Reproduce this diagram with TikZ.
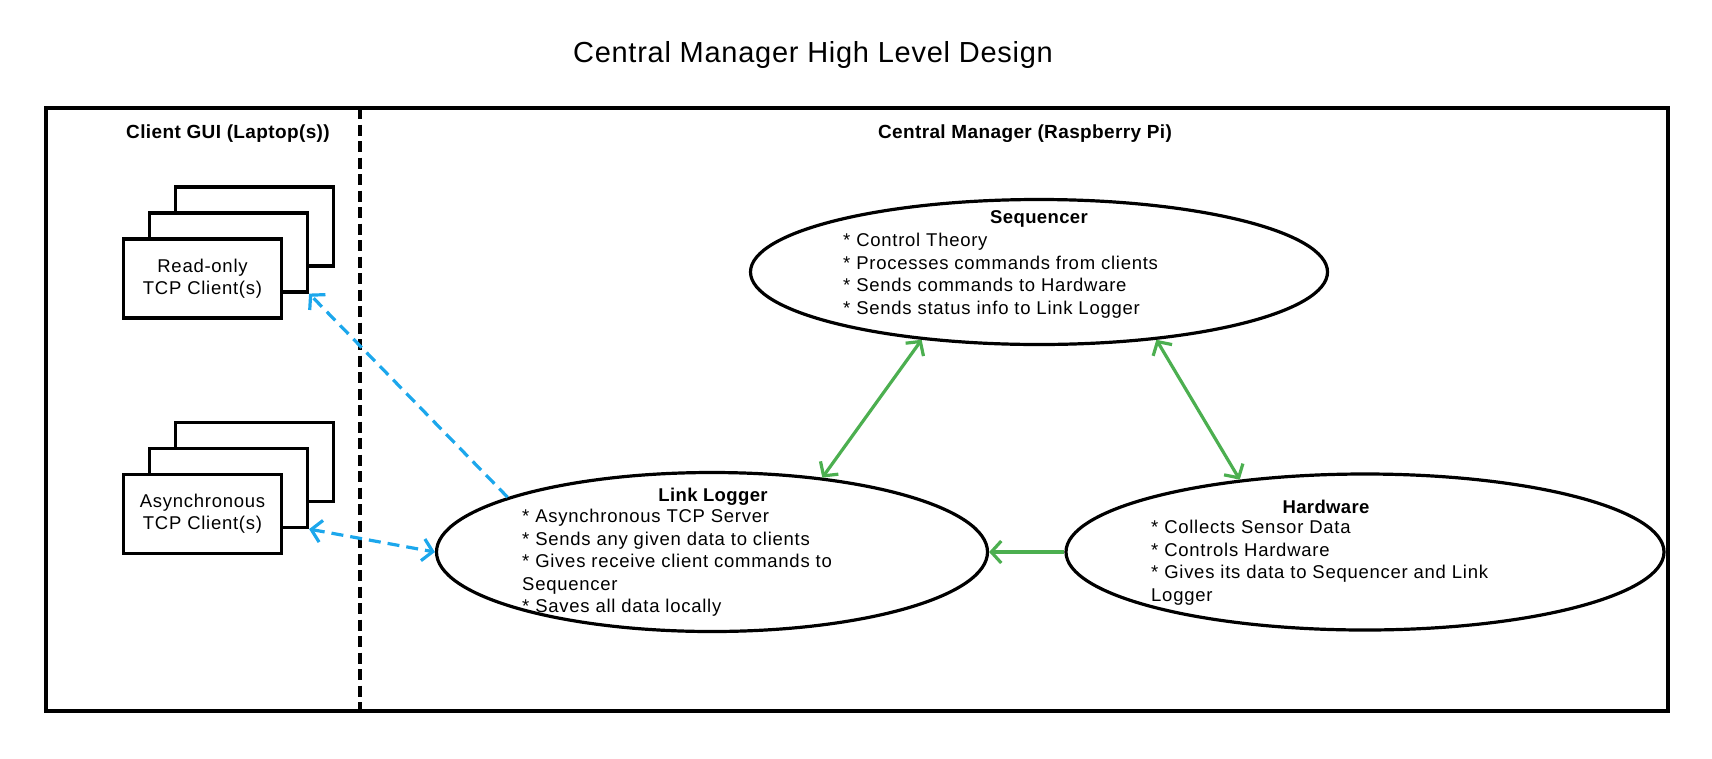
\documentclass[tikz,border=0pt]{standalone}
\usepackage{fontspec}
\setmainfont{Liberation Sans}[LetterSpace=4,BoldFeatures={LetterSpace=2}]
\newfontfamily\titlefont{Liberation Sans}[LetterSpace=2.5]
\usetikzlibrary{shapes.geometric,arrows.meta}
\definecolor{grn}{RGB}{76,175,80}
\definecolor{blu}{RGB}{28,167,236}
\begin{document}
\begin{tikzpicture}[x=1pt,y=-1pt,
  chev/.tip={Straight Barb[length=10pt,width=22pt]},
  body/.style={font=\fontsize{18.5}{22.5}\selectfont, inner sep=0pt, align=left, anchor=north west},
  ttl/.style={font=\fontsize{18.5}{22}\selectfont\bfseries, inner sep=0pt, anchor=base},
  sect/.style={font=\fontsize{19}{22}\selectfont\bfseries, inner sep=0pt, anchor=base},
  comp/.style={draw, line width=3.2pt, ellipse, inner sep=0pt},
  clientbox/.style={draw, line width=3.2pt, fill=white, minimum width=158pt, minimum height=79pt, inner sep=0pt, align=center, font=\fontsize{18.5}{22}\selectfont},
  garrow/.style={draw=grn, line width=3.2pt},
  barrow/.style={draw=blu, line width=3.2pt, dash pattern=on 12pt off 7pt}
]
\useasboundingbox (0,0) rectangle (1712,758);
\node[font=\fontsize{29}{33}\selectfont\titlefont, inner sep=0pt, anchor=base] (title) at (813,62) {Central Manager High Level Design};
% frame
\draw[line width=3.2pt] (46,108) rectangle (1668,711);
\coordinate (divtop) at (360,108);
\coordinate (divbot) at (360,711);
\draw[line width=3.2pt, dash pattern=on 11pt off 5.5pt] (divtop) -- (divbot);
\node[sect] (clientlbl) at (228,138.5) {Client GUI (Laptop(s))};
\node[sect] (cmlbl) at (1025,138.5) {Central Manager (Raspberry Pi)};
% read-only clients
\node[clientbox] (rob) at (254.5,226.5) {};
\node[clientbox] (rom) at (228.5,252.5) {};
\node[clientbox] (rof) at (202.5,278.5) {Read-only\\TCP Client(s)};
% async clients
\node[clientbox] (asb) at (254.5,462) {};
\node[clientbox] (asm) at (228.5,488) {};
\node[clientbox] (asf) at (202.5,514) {Asynchronous\\TCP Client(s)};
% ellipses
\node[comp, minimum width=577pt, minimum height=145pt] (seq) at (1039,272) {};
\node[comp, minimum width=551pt, minimum height=159pt] (ll) at (712,552) {};
\node[comp, minimum width=598pt, minimum height=156pt] (hw) at (1365,552) {};
% texts
\node[ttl] (seqt) at (1039,223.5) {Sequencer};
\node[body] (seqb) at (843,233) {* Control Theory\\* Processes commands from clients\\* Sends commands to Hardware\\* Sends status info to Link Logger};
\node[ttl] (llt) at (713,501.5) {Link Logger};
\node[body] (llb) at (522,509) {* Asynchronous TCP Server\\* Sends any given data to clients\\* Gives receive client commands to\\Sequencer\\* Saves all data locally};
\node[ttl] (hwt) at (1326,513.5) {Hardware};
\node[body] (hwb) at (1151,520) {* Collects Sensor Data\\* Controls Hardware\\* Gives its data to Sequencer and Link\\Logger};
% green arrows
\draw[garrow, {chev}-{chev}] (seq.210) -- (ll.34);
\draw[garrow, {chev}-{chev}] (seq.330) -- (hw.150);
\draw[garrow, -{chev}] (hw.west) -- (ll.east);
% blue arrows
\draw[barrow, -{chev}] (ll.165) -- (rom.south east);
\draw[barrow, {chev}-{chev}] (asm.south east) -- (ll.west);
\end{tikzpicture}
\end{document}
